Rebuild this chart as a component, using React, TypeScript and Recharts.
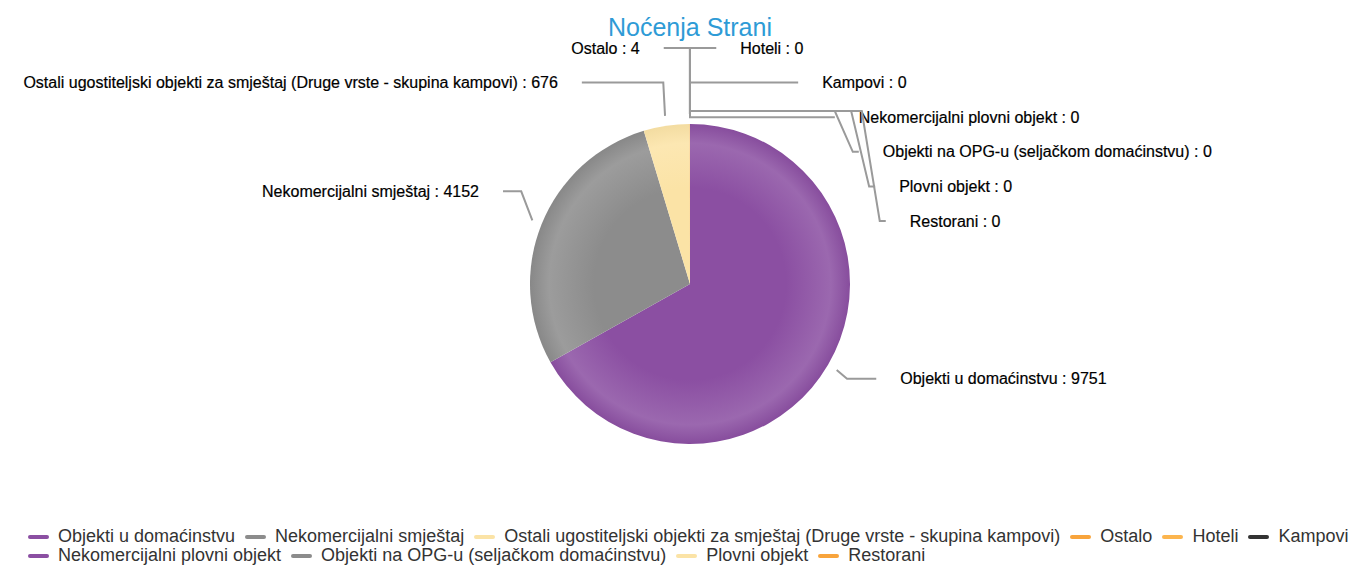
import React from "react";
import { PieChart, Pie, Cell, Legend } from "recharts";

const title = "Noćenja Strani";
const categories = [
  "Objekti u domaćinstvu",
  "Nekomercijalni smještaj",
  "Ostali ugostiteljski objekti za smještaj (Druge vrste - skupina kampovi)",
  "Ostalo",
  "Hoteli",
  "Kampovi",
  "Nekomercijalni plovni objekt",
  "Objekti na OPG-u (seljačkom domaćinstvu)",
  "Plovni objekt",
  "Restorani",
];
const nights = [9751, 4152, 676, 4, 0, 0, 0, 0, 0, 0];
const colors = [
  "#8b4fa2", "#8c8c8c", "#fbe3a6", "#f8a43c", "#fcb54e",
  "#333333", "#8b4fa2", "#8c8c8c", "#fbe3a6", "#f8a43c",
];

const W = 1352;
const H = 565;
const CX = 690;
const CY = 284;
const R = 160;
const RAD = Math.PI / 180;
const FONT = '"Liberation Sans", Arial, sans-serif';

// label layout settings
const LABEL_DIST = 53;
const LABEL_LIFT = 13;
const GAP = 34.6;
const TOP = 48;
const BOTTOM = 470;
const RX = 203;
const RY = 238;

const data = categories.map((name, i) => ({ name, value: nights[i] }));

// mid angle of every slice, clockwise from 12 o'clock
const total = nights.reduce((a, b) => a + b, 0);
const midAngles: number[] = [];
let acc = 0;
nights.forEach((v) => {
  const span = (v / total) * 360;
  midAngles.push(acc + span / 2);
  acc += span;
});

const onRight = (a: number) => {
  const m = ((a % 360) + 360) % 360;
  return m < 180 || 360 - m < 1e-6;
};

// push overlapping labels apart, keeping groups centred on their targets
function spread(targets: number[], gap: number, minY: number, maxY: number) {
  let groups = targets.map((t) => ({ n: 1, sum: t }));
  const top = (g: { n: number; sum: number }) =>
    Math.min(Math.max(g.sum / g.n - ((g.n - 1) * gap) / 2, minY), maxY - (g.n - 1) * gap);
  let merged = true;
  while (merged) {
    merged = false;
    for (let i = 1; i < groups.length; i++) {
      const a = groups[i - 1];
      const b = groups[i];
      if (top(b) < top(a) + a.n * gap) {
        groups.splice(i - 1, 2, { n: a.n + b.n, sum: a.sum + b.sum });
        merged = true;
        break;
      }
    }
  }
  const out: number[] = [];
  groups.forEach((g) => {
    const t = top(g);
    for (let k = 0; k < g.n; k++) out.push(t + k * gap);
  });
  return out;
}

const slots = midAngles.map((a) => ({
  y: CY - LABEL_LIFT - (R + LABEL_DIST) * Math.cos(a * RAD),
  right: onRight(a),
  bend: Math.abs(Math.sin(a * RAD)),
}));
[true, false].forEach((side) => {
  const idx = slots
    .map((_, i) => i)
    .filter((i) => slots[i].right === side)
    .sort((i, j) => slots[i].y - slots[j].y || i - j);
  const ys = spread(idx.map((i) => slots[i].y), GAP, TOP, BOTTOM);
  idx.forEach((i, k) => {
    slots[i].y = ys[k];
  });
});

const polar = (cx: number, cy: number, r: number, angle: number) => ({
  x: cx + Math.cos(-angle * RAD) * r,
  y: cy + Math.sin(-angle * RAD) * r,
});

const lighten = (hex: string, t: number) => {
  const n = parseInt(hex.slice(1), 16);
  const ch = [(n >> 16) & 255, (n >> 8) & 255, n & 255].map((c) => Math.round(c + (255 - c) * t));
  return `rgb(${ch.join(",")})`;
};
const darken = (hex: string, t: number) => {
  const n = parseInt(hex.slice(1), 16);
  const ch = [(n >> 16) & 255, (n >> 8) & 255, n & 255].map((c) => Math.round(c * (1 - t)));
  return `rgb(${ch.join(",")})`;
};

const renderLabel = (props: any) => {
  const { index, cx, cy, midAngle, outerRadius, value } = props;
  const slot = slots[index];
  const sign = slot.right ? 1 : -1;
  const touch = polar(cx, cy, outerRadius + 10, midAngle);
  const dy = (slot.y - cy) / RY;
  const ax = cx + sign * RX * Math.sqrt(Math.max(0, 1 - dy * dy));
  let d: string;
  if (slot.bend < 0.1 && slot.y > touch.y + 10) {
    // label pushed below the slice top: climb back up beside the label, then run across
    const kx = ax - sign * 6;
    const ux = ax - sign * 24;
    d = `M${ax},${slot.y}L${kx},${slot.y}L${ux},${touch.y - 3}L${touch.x},${touch.y - 3}L${touch.x},${touch.y}`;
  } else {
    const crookX = touch.x + sign * Math.min(12, Math.abs(ax - touch.x)) * slot.bend;
    d = `M${ax},${slot.y}L${crookX},${slot.y}L${touch.x},${touch.y}`;
  }
  return (
    <g>
      <path d={d} stroke="#9a9a9a" strokeWidth={2} fill="none" />
      <text
        x={ax + sign * 24}
        y={slot.y}
        dy="0.35em"
        textAnchor={slot.right ? "start" : "end"}
        fontFamily={FONT}
        fontSize={16}
        fill="#000"
        stroke="#000"
        strokeWidth={0.2}
      >
        {`${categories[index]} : ${value}`}
      </text>
    </g>
  );
};

const renderLegend = (props: any) => {
  const items = [...(props.payload || [])].sort(
    (a: any, b: any) => categories.indexOf(a.value) - categories.indexOf(b.value)
  );
  return (
    <div
      style={{
        display: "flex",
        flexWrap: "wrap",
        columnGap: 10,
        fontFamily: FONT,
        fontSize: 18,
        lineHeight: "19px",
        color: "#333",
      }}
    >
      {items.map((p: any) => {
        const k = categories.indexOf(p.value);
        return (
          <span key={p.value} style={{ display: "inline-flex", alignItems: "center", whiteSpace: "nowrap" }}>
            <span
              style={{
                display: "inline-block",
                width: 21,
                height: 4,
                borderRadius: 2,
                background: colors[k],
                marginRight: 9,
              }}
            />
            {p.value}
          </span>
        );
      })}
    </div>
  );
};

export default function App() {
  return (
    <div style={{ position: "absolute", left: 0, top: 0, width: W, height: H, background: "#fff" }}>
      <div
        style={{
          position: "absolute",
          left: CX - 300,
          top: 15,
          width: 600,
          textAlign: "center",
          fontFamily: FONT,
          fontSize: 25,
          lineHeight: "25px",
          color: "#2e9bd6",
          zIndex: 2,
        }}
      >
        {title}
      </div>
      <PieChart width={W} height={H} margin={{ top: 0, right: 0, bottom: 0, left: 0 }}>
        <defs>
          {colors.map((c, i) => (
            <radialGradient key={i} id={`g${i}`} gradientUnits="userSpaceOnUse" cx={CX} cy={CY} r={R}>
              <stop offset="0%" stopColor={c} />
              <stop offset="60%" stopColor={c} />
              <stop offset="88%" stopColor={lighten(c, 0.14)} />
              <stop offset="100%" stopColor={darken(c, 0.03)} />
            </radialGradient>
          ))}
        </defs>
        <Pie
          data={data}
          dataKey="value"
          nameKey="name"
          cx={CX}
          cy={CY}
          outerRadius={R}
          startAngle={90}
          endAngle={-270}
          stroke="none"
          labelLine={false}
          label={renderLabel}
          isAnimationActive={false}
        >
          {data.map((_, i) => (
            <Cell key={i} fill={`url(#g${i})`} />
          ))}
        </Pie>
        <Legend
          content={renderLegend}
          wrapperStyle={{ left: 28, top: 527, bottom: "auto", width: 1335 }}
        />
      </PieChart>
    </div>
  );
}
